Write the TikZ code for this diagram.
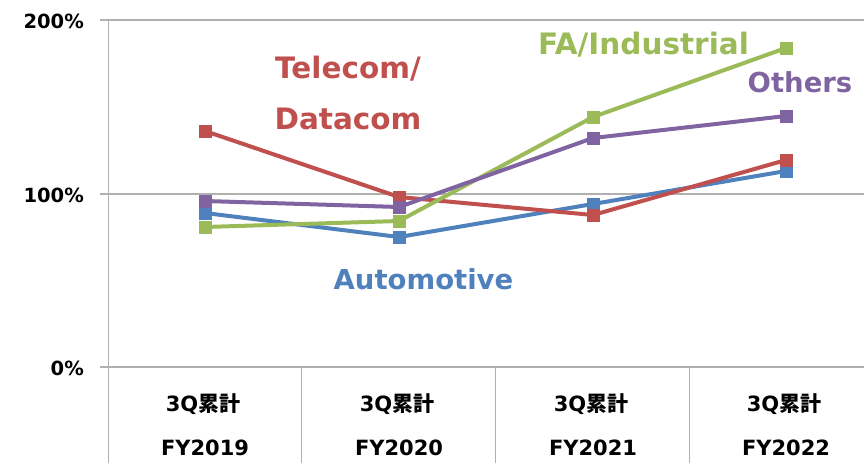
\documentclass[tikz,border=0pt]{standalone}
\usepackage{fontspec}
\setmainfont{DejaVu Sans}
\newfontfamily\cjk{Noto Sans CJK JP}
\definecolor{cred}{HTML}{C0504D}
\definecolor{cblue}{HTML}{4F81BD}
\definecolor{cgreen}{HTML}{9BBB59}
\definecolor{cpurple}{HTML}{8064A2}
\definecolor{cgrid}{HTML}{B0B0B0}
\newcommand{\qlab}{3Q{\cjk\bfseries 累計}}
\begin{document}
\begin{tikzpicture}[x=1pt,y=-1pt,
  grid/.style={draw=cgrid,line width=1.2pt},
  series/.style={line width=4pt,line join=round},
  mk/.style={fill=#1,minimum size=13pt,inner sep=0pt,outer sep=0pt,draw=none,rectangle},
  ylab/.style={font=\bfseries\fontsize{19.5}{19.5}\selectfont,anchor=east,inner sep=0pt},
  clab/.style={font=\bfseries\fontsize{21}{21}\selectfont,inner sep=0pt},
  flab/.style={font=\bfseries\fontsize{21}{21}\selectfont,inner sep=0pt,text height=15.5pt,text depth=0pt},
  slab/.style={font=\bfseries\fontsize{27.5}{27.5}\selectfont,text=#1,inner sep=0pt}]
\useasboundingbox (0,0) rectangle (864,463);
% grid and axes
\coordinate (g200l) at (100,20); \coordinate (g200r) at (864,20);
\coordinate (g100l) at (100,194); \coordinate (g100r) at (864,194);
\coordinate (g0l) at (100,367); \coordinate (g0r) at (864,367);
\draw[grid] (g200l) -- (g200r);
\draw[grid] (g100l) -- (g100r);
\draw[grid] (g0l) -- (g0r);
\coordinate (axt) at (108.5,20); \coordinate (axb) at (108.5,463);
\draw[grid] (axt) -- (axb);
\foreach \x [count=\i] in {301.5,495.5,689.5}{
  \coordinate (sept\i) at (\x,367); \coordinate (sepb\i) at (\x,463);
  \draw[grid] (sept\i) -- (sepb\i);
}
\node[ylab] (l200) at (84,21) {200\%};
\node[ylab] (l100) at (84,195) {100\%};
\node[ylab] (l0) at (84,368) {0\%};
\foreach \x [count=\i] in {203,397,591,784}{
  \node[clab] (c\i) at (\x,404) {\qlab};
}
\node[flab] (f1) at (205,448) {FY2019};
\node[flab] (f2) at (399,448) {FY2020};
\node[flab] (f3) at (593,448) {FY2021};
\node[flab] (f4) at (786,448) {FY2022};
% data points
\coordinate (b1) at (205,213); \coordinate (b2) at (399,237); \coordinate (b3) at (593,204); \coordinate (b4) at (786,171);
\coordinate (r1) at (205,131); \coordinate (r2) at (399,197); \coordinate (r3) at (593,215); \coordinate (r4) at (786,160);
\coordinate (g1) at (205,227); \coordinate (g2) at (399,221); \coordinate (g3) at (593,117); \coordinate (g4) at (786,48);
\coordinate (p1) at (205,201); \coordinate (p2) at (399,207); \coordinate (p3) at (593,138); \coordinate (p4) at (786,116);
% series
\draw[series,cblue] (b1) -- (b2) -- (b3) -- (b4);
\foreach \i in {1,...,4} \node[mk=cblue] (mb\i) at (b\i) {};
\draw[series,cred] (r1) -- (r2) -- (r3) -- (r4);
\foreach \i in {1,...,4} \node[mk=cred] (mr\i) at (r\i) {};
\draw[series,cgreen] (g1) -- (g2) -- (g3) -- (g4);
\foreach \i in {1,...,4} \node[mk=cgreen] (mg\i) at (g\i) {};
\draw[series,cpurple] (p1) -- (p2) -- (p3) -- (p4);
\foreach \i in {1,...,4} \node[mk=cpurple] (mp\i) at (p\i) {};
% labels
\node[slab=cred,font=\bfseries\fontsize{29.5}{29.5}\selectfont] (tel) at (348,69) {Telecom/};
\node[slab=cred,font=\bfseries\fontsize{29.5}{29.5}\selectfont] (dat) at (348,119) {Datacom};
\node[slab=cgreen,font=\bfseries\fontsize{29.5}{29.5}\selectfont] (fa) at (643.5,45) {FA/Industrial};
\node[slab=cpurple] (oth) at (800,82) {Others};
\node[slab=cblue] (aut) at (423.5,279) {Automotive};
\end{tikzpicture}
\end{document}
